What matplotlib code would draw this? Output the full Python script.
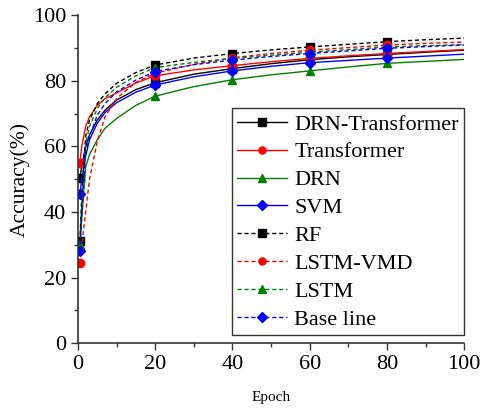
import numpy as np
import matplotlib.pyplot as plt

plt.rcParams['font.family'] = ['Liberation Serif', 'DejaVu Serif']

# epochs where the curves were read (markers at 0.5, 20, 40, 60, 80)
epoch = [0.5, 1, 2, 3, 5, 7, 10, 15, 20, 30, 40, 50, 60, 70, 80, 90, 100]
mark_idx = [0, 8, 10, 12, 14]

drn_transformer = [50.5, 54, 60, 63.5, 68, 71, 74.1, 77.3, 79.4, 82.0, 83.7, 85.2, 86.4, 87.3, 88.0, 88.7, 89.3]
transformer     = [55, 60, 66, 69, 72.5, 74.5, 76.3, 79.3, 81.5, 83.3, 84.6, 85.8, 86.8, 87.6, 88.3, 88.9, 89.5]
drn             = [30, 38, 53.7, 57.5, 62, 65.5, 68.5, 72.5, 75.3, 78.2, 80.3, 81.8, 83.0, 84.2, 85.3, 85.9, 86.5]
svm             = [45.5, 50, 57, 62, 67, 70.3, 73.3, 76.5, 78.7, 81.2, 83.0, 84.4, 85.5, 86.2, 86.9, 87.5, 88.1]
rf              = [31, 45, 63, 68, 73, 76, 79.2, 82.5, 84.8, 86.9, 88.3, 89.4, 90.3, 91.1, 91.9, 92.5, 93.0]
lstm_vmd        = [24.5, 30, 40, 50, 61.4, 69, 74.6, 79.5, 82.3, 85.0, 87.0, 88.3, 89.3, 90.1, 90.9, 91.4, 91.8]
lstm            = [30, 42, 61, 66, 71.5, 74.8, 78, 81.5, 84.0, 85.6, 86.8, 87.8, 88.7, 89.5, 90.3, 90.7, 91.0]
base_line       = [28, 40, 58, 63, 69.5, 73, 76.6, 80.2, 82.8, 84.9, 86.3, 87.4, 88.3, 89.1, 89.9, 90.4, 90.9]

series = [
    ('DRN-Transformer', drn_transformer, 'black', 's', '-'),
    ('Transformer', transformer, 'red', 'o', '-'),
    ('DRN', drn, 'green', '^', '-'),
    ('SVM', svm, 'blue', 'D', '-'),
    ('RF', rf, 'black', 's', (0, (3, 2))),
    ('LSTM-VMD', lstm_vmd, 'red', 'o', (0, (3, 2))),
    ('LSTM', lstm, 'green', '^', (0, (3, 2))),
    ('Base line', base_line, 'blue', 'D', (0, (3, 2))),
]

fig = plt.figure(figsize=(4.81, 4.09), dpi=100)
ax = fig.add_axes([0.162, 0.161, 0.803, 0.802])

for name, vals, col, mk, ls in series:
    ax.plot(epoch, vals, color=col, linestyle=ls, linewidth=1.0,
            marker=mk, markersize=6 if mk != 'D' else 5.5, markevery=mark_idx,
            label=name)

ax.set_xlim(0, 100)
ax.set_ylim(0, 100)
ax.set_xticks(np.arange(0, 101, 20))
ax.set_yticks(np.arange(0, 101, 20))
ax.set_xticks(np.arange(0, 101, 10), minor=True)
ax.set_yticks(np.arange(0, 101, 10), minor=True)
ax.tick_params(which='major', direction='out', length=5, width=1, labelsize=16, colors='#333333', labelcolor='black')
ax.tick_params(which='minor', direction='out', length=3, width=1, colors='#333333')
for s in ['top', 'right']:
    ax.spines[s].set_visible(False)
for s in ['left', 'bottom']:
    ax.spines[s].set_color('#333333')
    ax.spines[s].set_linewidth(1.2)

ax.set_ylabel('Accuracy(%)', fontsize=15.5, labelpad=2)
ax.set_xlabel('Epoch', fontsize=11, labelpad=12)

leg = ax.legend(loc='lower right', bbox_to_anchor=(1.0, 0.024), fontsize=16,
                handlelength=2.25, frameon=True, fancybox=False, edgecolor='black',
                borderpad=0.25, labelspacing=0.33, handletextpad=0.3, borderaxespad=0,
                markerscale=0.85)
leg.get_frame().set_linewidth(1.0)

plt.savefig('out.png', dpi=100)
